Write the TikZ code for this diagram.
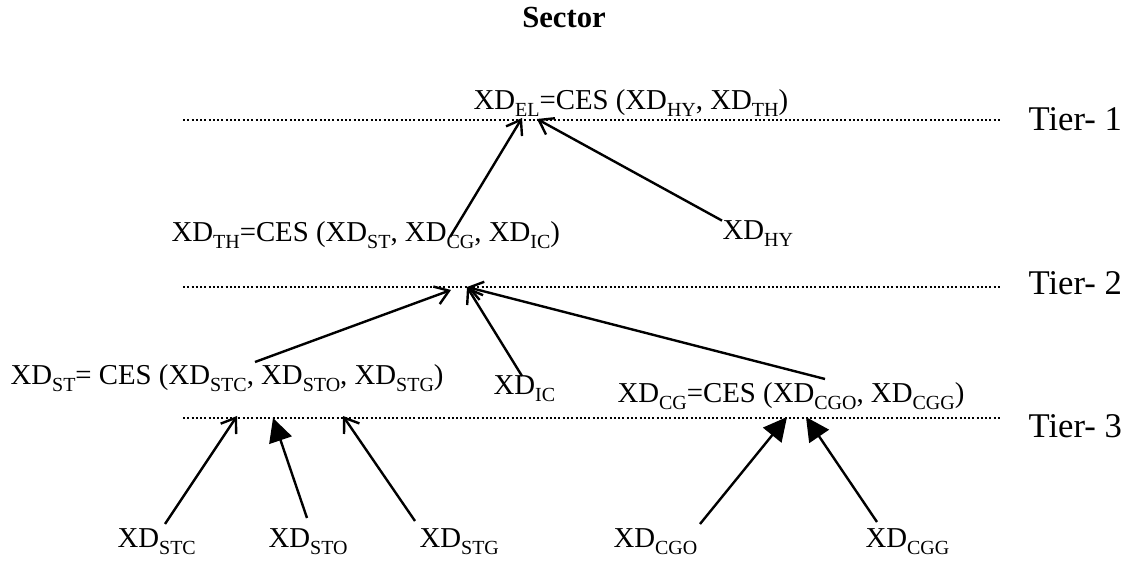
\documentclass[tikz,border=0pt]{standalone}
\usepackage{fontspec}
\setmainfont{Liberation Serif}
\usetikzlibrary{arrows.meta}
\newcommand{\xd}[1]{XD\raisebox{-2.3pt}{\fontsize{7.5}{9}\selectfont #1}}

\begin{document}
\begin{tikzpicture}[x=0.375pt,y=-0.375pt,font=\fontsize{10.8}{13}\selectfont,
  lbl/.style={inner sep=0pt,anchor=base west},
  tierlbl/.style={lbl,font=\fontsize{13}{15}\selectfont},
  tierline/.style={line width=0.75pt,dash pattern=on 0.75pt off 0.85pt},
  openhead/.style={-{Straight Barb[length=5pt,width=7pt]},line width=0.9pt},
  fullhead/.style={-{Triangle[length=8.8pt,width=8.8pt]},line width=0.9pt}]
\useasboundingbox (0,0) rectangle (1128,562);

% define the title and the tiers
  \node[font=\fontsize{11.5}{14}\selectfont\bfseries] (sector) at (564,18) {Sector};
  \foreach \y/\t/\n in {120/131/1, 287/295/2, 418/438/3}{
    \draw[tierline] (183,\y) -- (1000,\y);
    \node[tierlbl] (tier\n) at (1028,\t) {Tier- \n};
  }

% define the functions
  \node[lbl] (el)  at (473,110) {\xd{EL}=CES (\xd{HY}, \xd{TH})};
  \node[lbl] (th)  at (171,242) {\xd{TH}=CES (\xd{ST}, \xd{CG}, \xd{IC})};
  \node[lbl] (hy)  at (722,240) {\xd{HY}};
  \node[lbl] (st)  at (10,385)  {\xd{ST}= CES (\xd{STC}, \xd{STO}, \xd{STG})};
  \node[lbl] (ic)  at (493,395) {\xd{IC}};
  \node[lbl] (cg)  at (617,403) {\xd{CG}=CES (\xd{CGO}, \xd{CGG})};
  \node[lbl] (stc) at (117,548) {\xd{STC}};
  \node[lbl] (sto) at (268,548) {\xd{STO}};
  \node[lbl] (stg) at (419,548) {\xd{STG}};
  \node[lbl] (cgo) at (613,548) {\xd{CGO}};
  \node[lbl] (cgg) at (865,548) {\xd{CGG}};

% define the ends of the links
  \coordinate (el-a) at (522,118);
  \coordinate (el-b) at (537,119);
  \coordinate (th-a) at (451,290);
  \coordinate (th-b) at (467,287);
  \coordinate (st-a) at (237,416);
  \coordinate (st-b) at (273,418);
  \coordinate (st-c) at (343,416);
  \coordinate (cg-a) at (787,417);
  \coordinate (cg-b) at (806,417);
  \coordinate (cg-in-th) at (450,237);
  \coordinate (st-out) at (255,362);
  \coordinate (ic-out) at (522,376);
  \coordinate (cg-out) at (825,379);
  \coordinate (stc-out) at (165,524);
  \coordinate (sto-out) at (307,518);
  \coordinate (stg-out) at (415,521);
  \coordinate (cgo-out) at (700,524);
  \coordinate (cgg-out) at (877,522);

% define the links
  \path[openhead] (cg-in-th) edge (el-a)
                  (hy.north west) edge (el-b)
                  (st-out) edge (th-a)
                  (ic-out) edge (th-b)
                  (cg-out) edge (th-b)
                  (stc-out) edge (st-a)
                  (stg-out) edge (st-c);
  \path[fullhead] (sto-out) edge (st-b)
                  (cgo-out) edge (cg-a)
                  (cgg-out) edge (cg-b);

\end{tikzpicture}
\end{document}
